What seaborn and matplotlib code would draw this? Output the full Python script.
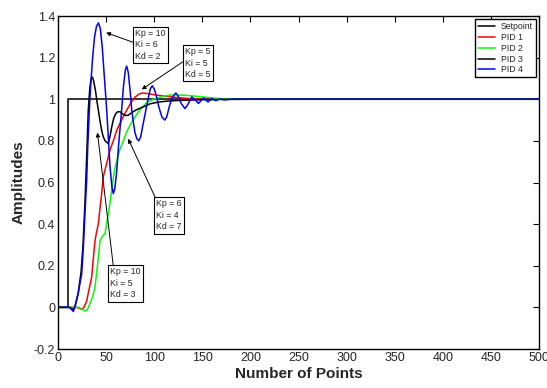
import matplotlib
matplotlib.use("Agg")
import matplotlib.pyplot as plt
import seaborn as sns
import pandas as pd
from matplotlib.ticker import FuncFormatter

# ---------------- data ----------------
setpoint_x = [0, 10, 10, 500]
setpoint_y = [0, 0, 1, 1]

pid1_x = [0, 20, 24.6, 27, 29.8, 32, 35, 37, 38.5, 40, 41.9, 43.5, 45.4, 47, 50.5, 54, 57.5,
          61, 66, 71.4, 76, 80, 85, 88.7, 95, 102, 109.5, 120, 137, 155, 500]
pid1_y = [0, 0, -0.01, 0.0, 0.03, 0.08, 0.146, 0.25, 0.32, 0.36, 0.40, 0.47, 0.546, 0.626, 0.69,
          0.755, 0.80, 0.85, 0.90, 0.947, 0.985, 1.01, 1.027, 1.03, 1.026, 1.02, 1.016, 1.01,
          1.003, 1.0, 1.0]

pid2_x = [0, 22, 25, 28, 30.5, 33.3, 36, 38.5, 41, 43.7, 46, 48.9, 50.5, 52.3, 54, 55.8, 57.5,
          59.3, 62, 64.4, 68, 71, 74.8, 80, 85.2, 92, 99, 110, 120, 135, 153, 170, 185, 500]
pid2_y = [0, 0, -0.01, -0.018, -0.01, 0.018, 0.05, 0.098, 0.2, 0.32, 0.34, 0.354, 0.40, 0.45,
          0.50, 0.565, 0.62, 0.67, 0.72, 0.76, 0.80, 0.84, 0.875, 0.915, 0.95, 0.983, 1.0,
          1.015, 1.022, 1.018, 1.01, 1.002, 1.0, 1.0]

pid3_x = [0, 12, 16, 18, 21, 24, 26, 28, 30, 31.5, 33, 34.5, 35.7, 37, 39, 40.5, 42, 43.5,
          45.4, 47, 49, 52.3, 54, 56, 58, 60, 62, 64.4, 67, 70, 73, 77, 81.8, 88, 95.6, 105,
          116, 130, 145, 170, 200, 500]
pid3_y = [0, 0, -0.01, 0.01, 0.07, 0.17, 0.30, 0.50, 0.75, 0.95, 1.05, 1.10, 1.107, 1.09,
          1.04, 0.99, 0.947, 0.90, 0.85, 0.82, 0.80, 0.787, 0.82, 0.87, 0.91, 0.93, 0.94, 0.94,
          0.93, 0.922, 0.923, 0.937, 0.95, 0.962, 0.978, 0.987, 0.992, 0.995, 0.997, 0.999,
          1.0, 1.0]

pid4_x = [0, 12, 14, 16, 18, 21, 23, 24.6, 26.5, 28, 29.8, 31, 32.6, 34, 36, 38, 40, 42,
          44, 46, 48, 50.6, 52, 54, 56, 57.5, 59,
          61, 63, 64.5, 66.2, 68, 70, 71.4, 73,
          75, 76.6, 78, 80, 82, 84, 86,
          88, 91, 94, 96, 98, 100,
          102, 105, 108, 111, 113,
          116, 119, 122.5, 125,
          128, 132, 135,
          139, 142, 146, 148.5, 151, 153.5, 156, 160, 164, 168, 173, 180, 500]
pid4_y = [0, 0, -0.01, -0.02, 0.01, 0.066, 0.12, 0.16, 0.30, 0.45, 0.61, 0.78, 0.95, 1.07,
          1.20, 1.30, 1.35, 1.367,
          1.34, 1.25, 1.12, 0.95, 0.84, 0.68, 0.58, 0.546, 0.57,
          0.65, 0.78, 0.86, 0.95, 1.06, 1.14, 1.159, 1.13,
          1.04, 0.95, 0.90, 0.84, 0.81, 0.80, 0.82,
          0.87, 0.94, 1.01, 1.05, 1.065, 1.05,
          1.02, 0.96, 0.915, 0.90, 0.915,
          0.97, 1.01, 1.03, 1.015,
          0.98, 0.955, 0.975,
          1.011, 1.0, 0.98, 0.992, 1.006, 0.997, 0.987, 1.003, 0.993, 1.002, 0.997, 1.0, 1.0]

series_names = ["Setpoint", "PID 1", "PID 2", "PID 3", "PID 4"]
series_colors = ["#000000", "#ff0000", "#00ff00", "#000000", "#0000ff"]

annot_texts = ["Kp = 10\nKi = 6\nKd = 2", "Kp = 5\nKi = 5\nKd = 5",
               "Kp = 6\nKi = 4\nKd = 7", "Kp = 10\nKi = 5\nKd = 3"]
annot_tips = [(50, 1.32), (87, 1.047), (73, 0.81), (41, 0.84)]
annot_text_pos = [(80.5, 1.262), (132.5, 1.173), (102, 0.442), (54.5, 0.115)]
annot_relpos = [(0.0, 0.55), (0.0, 0.6), (0.0, 1.0), (0.1, 1.0)]

x_ticks = list(range(0, 501, 50))
y_ticks = [-0.2, 0, 0.2, 0.4, 0.6, 0.8, 1.0, 1.2, 1.4]

# ---------------- plot ----------------
sns.set_style("white")
plt.rcParams["font.family"] = ["Liberation Sans", "DejaVu Sans"]
plt.rcParams["xtick.direction"] = "in"
plt.rcParams["ytick.direction"] = "in"

fig = plt.figure(figsize=(5.47, 3.88), dpi=100)
ax = fig.add_axes([58 / 547, 1 - 349 / 388, 481 / 547, 333 / 388])

xs = [setpoint_x, pid1_x, pid2_x, pid3_x, pid4_x]
ys = [setpoint_y, pid1_y, pid2_y, pid3_y, pid4_y]
for name, color, sx, sy in zip(series_names, series_colors, xs, ys):
    df = pd.DataFrame({"x": sx, "y": sy})
    sns.lineplot(data=df, x="x", y="y", sort=False, estimator=None, color=color,
                 lw=1.1, ax=ax, label=name)

ax.set_xlim(0, 500)
ax.set_ylim(-0.2, 1.4)
ax.set_xticks(x_ticks)
ax.set_yticks(y_ticks)
ax.yaxis.set_major_formatter(FuncFormatter(lambda v, p: f"{v:g}"))
ax.tick_params(axis="both", which="both", direction="in", top=True, right=True,
               length=4, width=0.8, labelsize=9, pad=2, color="black")
for s in ax.spines.values():
    s.set_color("black")
    s.set_linewidth(1.0)

ax.set_xlabel("Number of Points", fontsize=11, fontweight="bold", labelpad=2)
ax.set_ylabel("Amplitudes", fontsize=11, fontweight="bold", labelpad=6)

for txt, tip, pos, rp in zip(annot_texts, annot_tips, annot_text_pos, annot_relpos):
    ax.annotate(txt, xy=tip, xytext=pos, textcoords="data", fontsize=6.3,
                ha="left", va="center", linespacing=1.35,
                bbox=dict(boxstyle="square,pad=0.25", fc="white", ec="black", lw=0.8),
                arrowprops=dict(arrowstyle="-|>", color="black", lw=0.7,
                                mutation_scale=6, relpos=rp, shrinkA=0, shrinkB=0))

leg = ax.legend(loc="upper right", bbox_to_anchor=(0.993, 0.99), borderaxespad=0,
                fontsize=6.3, handlelength=2.0, labelspacing=0.2, handletextpad=0.6,
                borderpad=0.35, fancybox=False, framealpha=1, edgecolor="black")
leg.get_frame().set_linewidth(1.0)

fig.savefig("out.png", dpi=100)
